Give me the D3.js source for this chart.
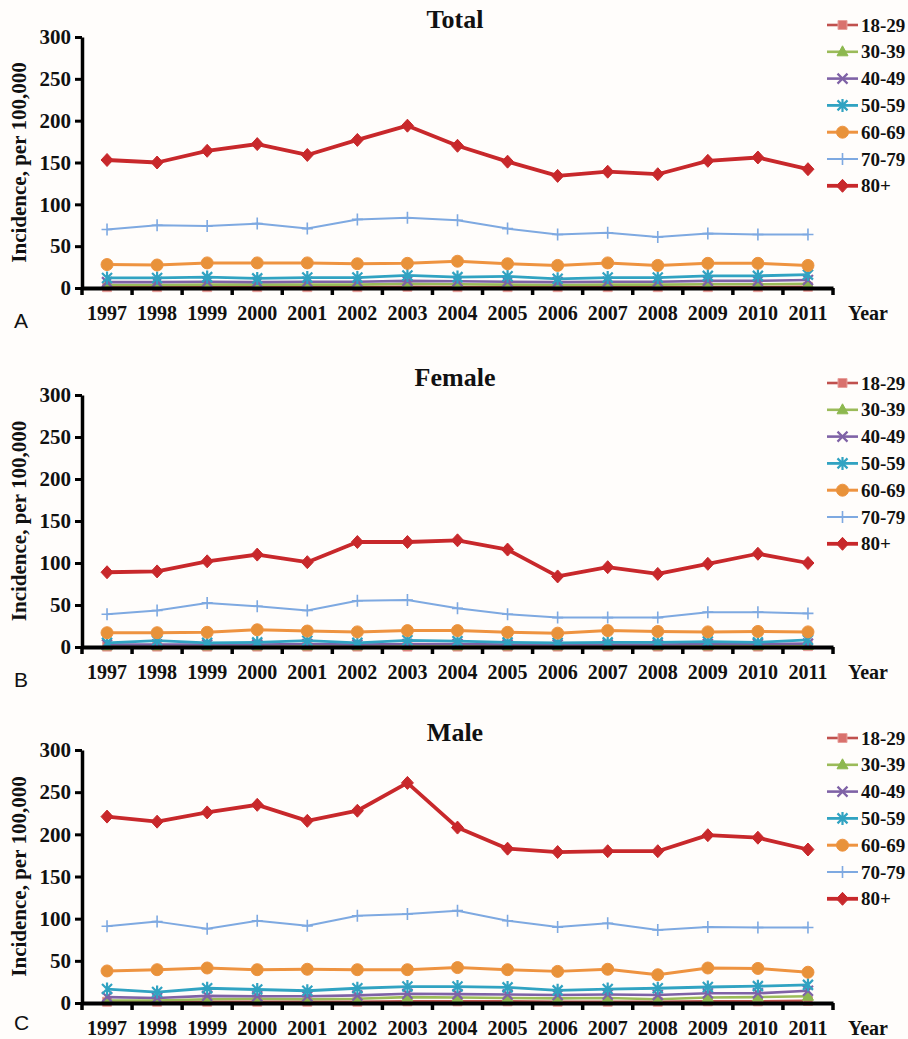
<!DOCTYPE html>
<html><head><meta charset="utf-8">
<script src="https://cdn.jsdelivr.net/npm/d3@7"></script>
<style>
html,body{margin:0;padding:0;background:#fffdfb;}
svg{display:block;}
</style></head>
<body>
<svg id="chart" width="908" height="1039"></svg>
<script>
// ---------- DATA ----------
const years = [1997,1998,1999,2000,2001,2002,2003,2004,2005,2006,2007,2008,2009,2010,2011];
const groups = ["18-29","30-39","40-49","50-59","60-69","70-79","80+"];
const yTicks = [0,50,100,150,200,250,300];
const panelTitles = ["Total","Female","Male"];
const panelLetters = ["A","B","C"];

// Total
const total_18_29 = [1,1,1,1,1,1,1.5,1,1,1,1,1,1,1,1.5];
const total_30_39 = [3.5,3.5,4,4,4,4,5,4.5,4,3.5,4,4,4.5,4.5,5];
const total_40_49 = [7,7,7.5,7,7.5,7.5,8.5,8,7.5,7,7.5,7.5,8.5,8.5,9.5];
const total_50_59 = [12,12,13,11.5,12.5,12.5,15,13,14,11,12.5,12.5,14.5,14.5,16];
const total_60_69 = [28,27.5,30,30,30,29,29.5,32,29,27,30,27,29.5,29.5,27];
const total_70_79 = [70,75,74,77,71,82,84,81,71,64,66,61,65,64,64];
const total_80p   = [153,150,164,172,159,177,194,170,151,134,139,136,152,156,142];

// Female
const female_18_29 = [0.5,0.5,0.5,0.5,0.5,0.5,0.5,0.5,0.5,0.5,0.5,0.5,0.5,0.5,1];
const female_30_39 = [1.5,1.5,1.5,1.5,1.5,1.5,2,1.5,1.5,1.5,1.5,1.5,1.5,1.5,2];
const female_40_49 = [3,3,3,3,3.5,3,3.5,3.5,3,3,3,3,3.5,3.5,4];
const female_50_59 = [5,7.5,5,5.5,7.5,5,8,7,5.5,5,5.5,5.5,6.5,5.5,8.5];
const female_60_69 = [17,17,17.5,20.5,19,18,19.5,19.5,17.5,16.5,19.5,18.5,18,18.5,18];
const female_70_79 = [39,43.5,52.5,48.5,43.5,55,56,46,39,35,35,35,41.5,41.5,40];
const female_80p   = [89,90,102,110,101,125,125,127,116,84,95,87,99,111,100];

// Male
const male_18_29 = [1.5,1.5,1.5,1.5,1.5,1.5,2,2,2,1.5,1.5,1.5,2,2,2.5];
const male_30_39 = [3,3,4.5,5,4.5,5,7,6.5,6,5.5,6,4.5,6.5,7,8];
const male_40_49 = [7,6,8.5,8,8,9,11,10.5,10,9.5,10,9.5,11.5,11.5,14.5];
const male_50_59 = [16.5,13,17.5,16,14.5,17.5,19.5,19.5,18.5,15,16.5,17.5,19,20,21.5];
const male_60_69 = [38,39.5,41.5,39.5,40,39.5,39.5,42,39.5,37.5,40,33.5,41.5,41,36.5];
const male_70_79 = [91,96.5,88,97.5,91.5,103.5,105.5,109.5,97.5,90,94.5,86.5,90,89.5,89.5];
const male_80p   = [221,215,226,235,216,228,261,208,183,179,180,180,199,196,182];

const panelSeries = [
  [total_18_29,total_30_39,total_40_49,total_50_59,total_60_69,total_70_79,total_80p],
  [female_18_29,female_30_39,female_40_49,female_50_59,female_60_69,female_70_79,female_80p],
  [male_18_29,male_30_39,male_40_49,male_50_59,male_60_69,male_70_79,male_80p]
];

// ---------- STYLE ----------
const lineColors   = ["#C0504D","#9BBB59","#7F62A6","#31A3C2","#EE9340","#7EA9E1","#C8282B"];
const markerFill   = ["#D9716D","#8DB84F","#7F62A6","#31A3C2","#E8923A","#7EA9E1","#C8282B"];
const lineWidths   = [2.6,2.6,2.6,2.8,3,2,3.8];
const markerTypes  = ["square","triangle","times","asterisk","circle","plus","diamond"];
const panelTop     = [37,395,750];
const panelBottom  = [288,647,1003];
const X0 = 82, X1 = 833;
const serif = "'Liberation Serif','Times New Roman',serif";

const svg = d3.select("#chart");

function markerPath(type){
  switch(type){
    case "square": return "M-4.5,-4.5H4.5V4.5H-4.5Z";
    case "triangle": return "M0,-6L5.5,4H-5.5Z";
    case "diamond": return "M0,-6.5L6,0L0,6.5L-6,0Z";
    case "times": return "M-5,-5L5,5M-5,5L5,-5";
    case "asterisk": return "M-5,-5L5,5M-5,5L5,-5M0,-6.5L0,6.5";
    case "plus": return "M-5.5,0H5.5M0,-6V6";
    case "circle": return null;
  }
}
function drawMarker(g, type, i, cx, cy){
  if(type==="circle"){
    g.append("circle").attr("cx",cx).attr("cy",cy).attr("r",6)
      .attr("fill",markerFill[i]).attr("stroke",lineColors[i]).attr("stroke-width",1);
  } else if(type==="times"||type==="asterisk"||type==="plus"){
    g.append("path").attr("d",markerPath(type)).attr("transform",`translate(${cx},${cy})`)
      .attr("fill","none").attr("stroke",markerFill[i]).attr("stroke-width",type==="plus"?1.6:2.2);
  } else {
    g.append("path").attr("d",markerPath(type)).attr("transform",`translate(${cx},${cy})`)
      .attr("fill",markerFill[i]).attr("stroke",type==="square"?"#E7A09C":markerFill[i]).attr("stroke-width",1);
  }
}

const x = d3.scaleBand().domain(years).range([X0,X1]).paddingInner(0).paddingOuter(0);
const xc = d => x(d) + x.bandwidth()/2;

panelSeries.forEach((series, p) => {
  const y = d3.scaleLinear().domain([0,300]).range([panelBottom[p], panelTop[p]]);
  const g = svg.append("g");

  // title
  g.append("text").attr("x",455).attr("y",panelTop[p]-9)
    .attr("text-anchor","middle").attr("font-family",serif).attr("font-weight","bold")
    .attr("font-size",26).attr("fill","#111").text(panelTitles[p]);

  // y axis
  const ya = g.append("g").attr("transform",`translate(${X0},0)`)
    .call(d3.axisLeft(y).tickValues(yTicks).tickSize(7).tickSizeOuter(0).tickPadding(4));
  ya.select(".domain").attr("stroke","#000").attr("stroke-width",3.5);
  ya.selectAll(".tick line").attr("stroke","#000").attr("stroke-width",3);
  ya.selectAll(".tick text").attr("font-family",serif).attr("font-weight","bold")
    .attr("font-size",21).attr("fill","#111");

  // y axis title
  g.append("text").attr("transform",`translate(26,${(panelTop[p]+panelBottom[p])/2}) rotate(-90)`)
    .attr("text-anchor","middle").attr("font-family",serif).attr("font-weight","bold")
    .attr("font-size",21).attr("fill","#111").text("Incidence, per 100,000");

  // series
  series.forEach((vals, i) => {
    const pts = years.map((yr,k)=>[xc(yr), y(vals[k])]);
    g.append("path").attr("d", d3.line()(pts)).attr("fill","none")
      .attr("stroke",lineColors[i]).attr("stroke-width",lineWidths[i]).attr("stroke-linejoin","round");
    const mg = g.append("g");
    pts.forEach(pt => drawMarker(mg, markerTypes[i], i, pt[0], pt[1]));
  });

  // x axis (drawn on top)
  const xa = g.append("g").attr("transform",`translate(0,${panelBottom[p]})`)
    .call(d3.axisBottom(x).tickSize(0).tickPadding(18));
  xa.select(".domain").attr("stroke","#000").attr("stroke-width",4);
  xa.selectAll(".tick text").attr("font-family",serif).attr("font-weight","bold")
    .attr("font-size",20).attr("fill","#111");
  const bounds = years.map(yr => x(yr)).concat([X1]);
  xa.selectAll("line.bt").data(bounds).enter().append("line").attr("class","bt")
    .attr("x1",d=>d).attr("x2",d=>d).attr("y1",0).attr("y2",7)
    .attr("stroke","#000").attr("stroke-width",3.5);

  // Year label
  g.append("text").attr("x",848).attr("y",panelBottom[p]+32)
    .attr("font-family",serif).attr("font-weight","bold").attr("font-size",20)
    .attr("fill","#111").text("Year");

  // panel letter
  g.append("text").attr("x",14).attr("y",panelBottom[p]+(p===2?27:40))
    .attr("font-family","'Liberation Sans',Arial,sans-serif").attr("font-size",21)
    .attr("fill","#111").text(panelLetters[p]);

  // legend
  const lg = g.append("g");
  groups.forEach((name,i) => {
    const ly = panelTop[p] - 12 + i*26.8;
    lg.append("line").attr("x1",827).attr("x2",858).attr("y1",ly).attr("y2",ly)
      .attr("stroke",lineColors[i]).attr("stroke-width",lineWidths[i]);
    drawMarker(lg, markerTypes[i], i, 842.5, ly);
    lg.append("text").attr("x",861).attr("y",ly+6.5)
      .attr("font-family",serif).attr("font-weight","bold").attr("font-size",19)
      .attr("fill","#111").text(name);
  });
});
</script>
</body></html>
